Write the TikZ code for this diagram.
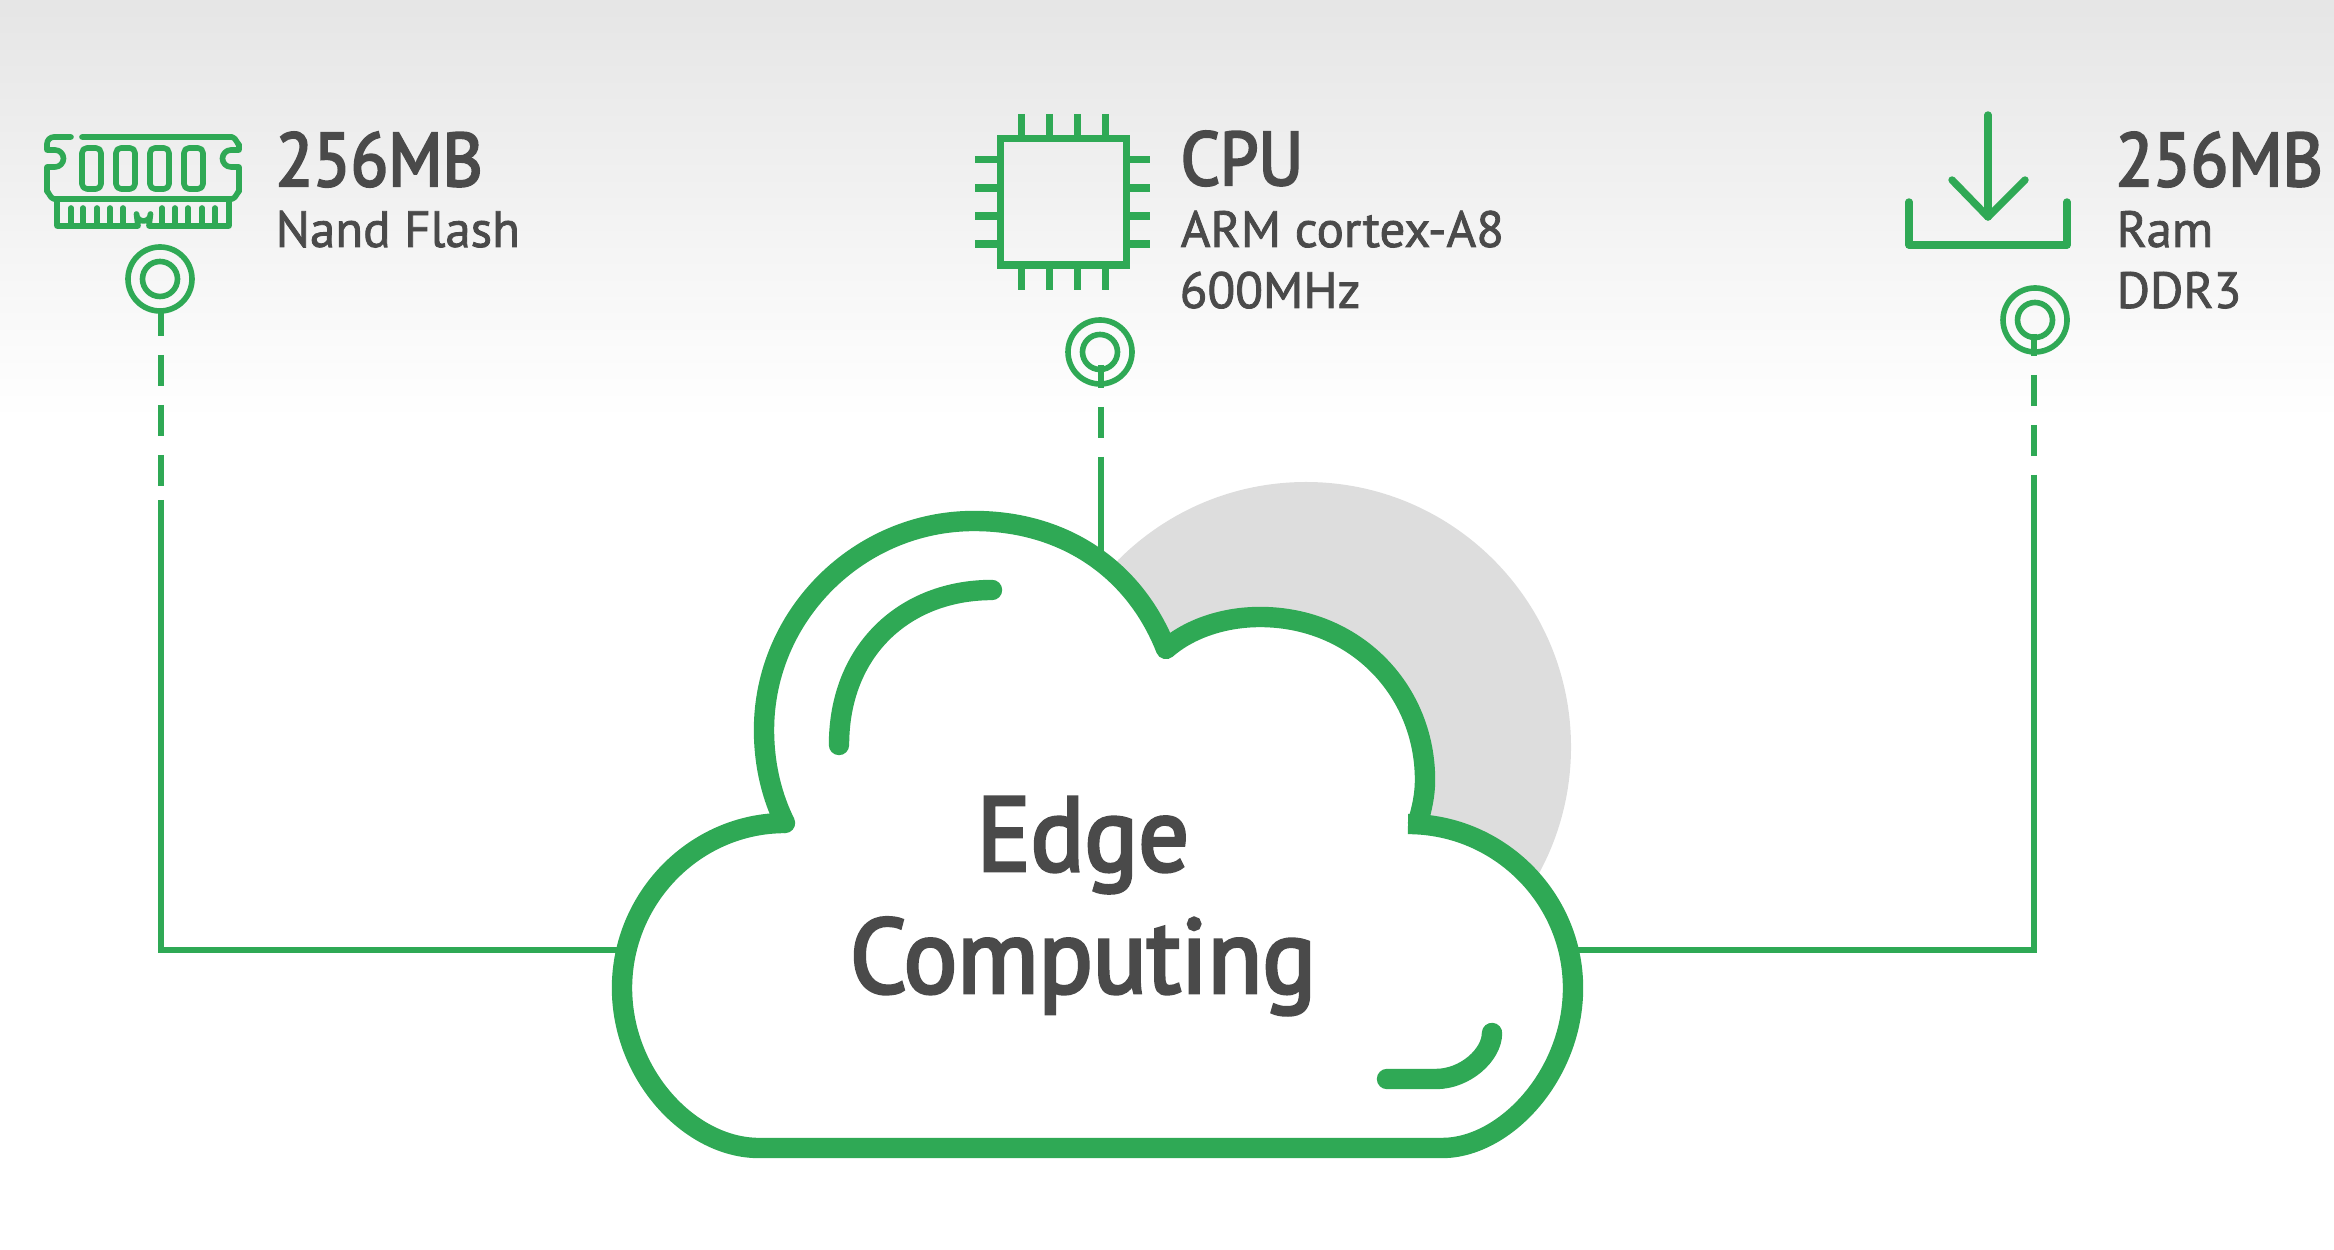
\documentclass[tikz,border=0pt]{standalone}
\usepackage{fontspec}
\setmainfont{PT Sans}
\newfontfamily\headfont[FakeBold=3.2,FakeStretch=0.91]{PT Sans}
\newfontfamily\cloudfont[FakeBold=3.2,FakeStretch=0.95]{PT Sans}
\newfontfamily\bodyfont[FakeBold=1.6,FakeStretch=1.0]{PT Sans}
\definecolor{edgegreen}{HTML}{2FA955}
\definecolor{edgetext}{HTML}{4A4A4A}
\definecolor{edgedisc}{HTML}{DDDDDD}
\tikzset{
  cloudline/.style={draw=edgegreen,line width=5.8pt,line join=round},
  wire/.style={draw=edgegreen,line width=1.7pt},
  dashedwire/.style={wire,dash pattern=on 8.81pt off 5.4pt,dash phase=2.27pt},
  ring/.style={circle,draw=edgegreen,line width=1.6pt,inner sep=0pt},
  iconline/.style={draw=edgegreen,line width=1.6pt,line join=round,line cap=round},
  cpuline/.style={draw=edgegreen,line width=2pt},
  loadline/.style={draw=edgegreen,line width=2.1pt,line cap=round,line join=round},
  biglabel/.style={anchor=base west,inner sep=0pt,text=edgetext,font=\headfont\fontsize{21.5}{24}\selectfont},
  smalllabel/.style={anchor=base west,inner sep=0pt,text=edgetext,font=\bodyfont\fontsize{14.5}{18}\selectfont},
}
\begin{document}
\begin{tikzpicture}[x=0.1mm,y=-0.1mm]
    \useasboundingbox (0,0) rectangle (2334,1250);
    \shade[top color=black!10,bottom color=white] (0,0) rectangle (2334,420);
    \fill[edgedisc] (1306,747) circle[radius=265];

    % rings
    \node[ring,minimum size=6.4mm] (ramring) at (160,279) {};
    \node[ring,minimum size=3.5mm] (ramhole) at (ramring) {};
    \node[ring,minimum size=6.4mm] (cpuring) at (1100,352) {};
    \node[ring,minimum size=3.5mm] (cpuhole) at (cpuring) {};
    \node[ring,minimum size=6.4mm] (ddrring) at (2035,320) {};
    \node[ring,minimum size=3.5mm] (ddrhole) at (ddrring) {};

    % where the dashes start and stop
    \coordinate (ramstem) at (161,313);
    \coordinate (ramjoin) at (161,500);
    \coordinate (cpustem) at (1101,365);
    \coordinate (cpujoin) at (1101,457);
    \coordinate (ddrstem) at (2034,334);
    \coordinate (ddrjoin) at (2034,475);

    % free ends on the cloud
    \coordinate (cloudleft) at (640,950);
    \coordinate (cloudright) at (1560,950);
    \coordinate (cloudtop) at (1101,570);

    \draw[dashedwire] (ramstem) -- (ramjoin);
    \draw[wire] (ramjoin) |- (cloudleft);
    \draw[dashedwire] (cpustem) -- (cpujoin);
    \draw[wire] (cpujoin) -- (cloudtop);
    \draw[dashedwire,dash phase=2.56pt] (ddrstem) -- (ddrjoin);
    \draw[wire] (ddrjoin) |- (cloudright);

    % cloud
    \path[fill=white] (785,823) .. controls (772,797) and (764,765) .. (764,730)
      .. controls (764,615) and (859,521) .. (974,521)
      .. controls (1065,521) and (1135,570) .. (1166,649)
      .. controls (1190,628) and (1225,617) .. (1260,617)
      .. controls (1355,617) and (1425,690) .. (1425,780)
      -- (1408,824)
      .. controls (1499,824) and (1573,898) .. (1573,988)
      .. controls (1573,1075) and (1505,1148) .. (1442,1148)
      -- (759,1148)
      .. controls (690,1148) and (622,1075) .. (622,988)
      .. controls (622,898) and (695,823) .. cycle;
    \draw[cloudline,line cap=round] (785,823) .. controls (772,797) and (764,765) .. (764,730)
      .. controls (764,615) and (859,521) .. (974,521)
      .. controls (1065,521) and (1135,570) .. (1166,649)
      .. controls (1190,628) and (1225,617) .. (1260,617)
      .. controls (1355,617) and (1425,690) .. (1425,780)
      .. controls (1425,795) and (1422,808) .. (1418,822);
    \draw[cloudline] (1408,824)
      .. controls (1499,824) and (1573,898) .. (1573,988)
      .. controls (1573,1075) and (1505,1148) .. (1442,1148)
      -- (759,1148)
      .. controls (690,1148) and (622,1075) .. (622,988)
      .. controls (622,898) and (695,823) .. (785,823);
    \draw[cloudline,line cap=round] (839,745) .. controls (839,650) and (905,590) .. (992,590);
    \draw[cloudline,line cap=round] (1387,1079) -- (1436,1079) .. controls (1465,1079) and (1492,1055) .. (1492,1033);

    \node[text=edgetext,inner sep=0pt,align=center,font=\cloudfont\fontsize{30}{34.7}\selectfont] (cloudtext) at (1083,906) {Edge\\Computing};

    % ram icon
    \draw[iconline]
      (71,137) -- (54,137) to[out=180,in=90] (47,144) -- (47,150) -- (55,150)
      arc[start angle=-90,end angle=90,radius=8.5] -- (47,167) -- (47,192)
      to[out=90,in=180] (54,199) -- (232,199) to[out=0,in=90] (239,192) -- (239,167) -- (231,167)
      arc[start angle=90,end angle=270,radius=8.5] -- (239,150) -- (239,144) to[out=-90,in=0] (232,137) -- (82,137);
    \foreach \chipx in {82,116,150,184}
      \draw[iconline,rounded corners=0.5mm] (\chipx,148) rectangle ++(19,41);
    \draw[iconline]
      (57,199) -- (57,226) -- (138,226) -- (136.5,214) arc[start angle=180,end angle=0,radius=7] -- (149,226) -- (229,226) -- (229,199);
    \foreach \pinx in {71,83,97,110,123,162,175,188,202,215}
      \draw[iconline] (\pinx,226) -- (\pinx,208);

    % cpu icon
    \draw[cpuline] (1000,139) rectangle (1126,265);
    \foreach \pinx in {1021,1049,1077,1105} {
      \draw[cpuline] (\pinx,114) -- (\pinx,139);
      \draw[cpuline] (\pinx,265) -- (\pinx,290);
    }
    \foreach \piny in {160,188,216,244} {
      \draw[cpuline] (975,\piny) -- (1000,\piny);
      \draw[cpuline] (1126,\piny) -- (1150,\piny);
    }

    % download icon
    \draw[loadline] (1988,115) -- (1988,217);
    \draw[loadline] (1952,180) -- (1988,217) -- (2025,180);
    \draw[loadline] (1909,202) -- (1909,245) -- (2067,245) -- (2067,202);

    % labels
    \node[biglabel] (ramsize) at (275,186) {256MB};
    \node[smalllabel] (ramname) at (275,247) {Nand Flash};
    \node[biglabel] (cpuname) at (1180,185) {CPU};
    \node[smalllabel] (cpumodel) at (1180,247) {ARM cortex-A8};
    \node[smalllabel] (cpuclock) at (1179,308) {600MHz};
    \node[biglabel] (ddrsize) at (2115,186) {256MB};
    \node[smalllabel] (ddrname) at (2116,247) {Ram};
    \node[smalllabel] (ddrtype) at (2116,308) {DDR3};
\end{tikzpicture}
\end{document}
